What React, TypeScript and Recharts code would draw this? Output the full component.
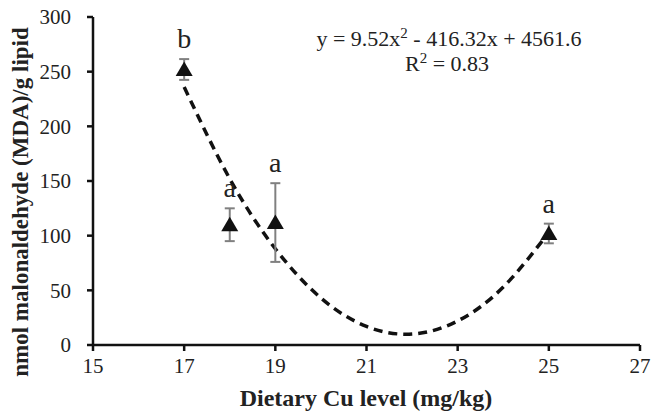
import { ComposedChart, Line, Scatter, XAxis, YAxis, ErrorBar } from 'recharts'

const cuLevels = [17, 18, 19, 25]
const mdaValues = [252, 110, 112, 102]
const mdaErrors = [9.5, 15, 36, 9]
const letters = ['b', 'a', 'a', 'a']

// trend curve at each level
const trendX = [17, 18, 19, 20, 21, 22, 23, 24, 25]
const trendY = [236, 152, 88, 43, 17, 10, 22, 53, 103]

const xTicks = [15, 17, 19, 21, 23, 25, 27]
const yTicks = [0, 50, 100, 150, 200, 250, 300]

const points = cuLevels.map((x, i) => ({ x, y: mdaValues[i], err: mdaErrors[i] }))
const letterPoints = cuLevels.map((x, i) => ({ x, y: mdaValues[i] + mdaErrors[i], letter: letters[i] }))
const trend = trendX.map((x, i) => ({ x, y: trendY[i] }))

const FONT = '"Liberation Serif", "Times New Roman", serif'

function Triangle(props: any) {
  const { cx, cy } = props
  if (cx == null || cy == null) return null
  return <path d={`M${cx},${cy - 8} L${cx + 8.5},${cy + 6.5} L${cx - 8.5},${cy + 6.5} Z`} fill="#111" />
}

function Letter(props: any) {
  const { cx, cy, payload } = props
  if (cx == null || cy == null) return null
  return (
    <text x={cx} y={cy - 11} textAnchor="middle" fontFamily={FONT} fontSize={28} fill="#222">
      {payload.letter}
    </text>
  )
}

export default function App() {
  return (
    <div style={{ position: 'absolute', left: 0, top: 0, background: '#fff' }}>
      <ComposedChart width={651} height={416} margin={{ top: 17, right: 11, bottom: 41, left: 33 }}>
        <XAxis
          type="number"
          dataKey="x"
          domain={[15, 27]}
          ticks={xTicks}
          tickSize={6}
          tickMargin={7}
          stroke="#111"
          strokeWidth={2.5}
          tick={{ fill: '#222', fontSize: 21, fontFamily: FONT }}
          height={30}
          allowDuplicatedCategory={false}
        />
        <YAxis
          type="number"
          domain={[0, 300]}
          ticks={yTicks}
          tickSize={6}
          tickMargin={16}
          stroke="#111"
          strokeWidth={2.5}
          tick={{ fill: '#222', fontSize: 21, fontFamily: FONT }}
          width={60}
        />
        <Line
          data={trend}
          dataKey="y"
          type="natural"
          stroke="#111"
          strokeWidth={3.5}
          strokeDasharray="9 6"
          dot={false}
          activeDot={false}
          isAnimationActive={false}
        />
        <Scatter data={points} dataKey="y" shape={<Triangle />} isAnimationActive={false}>
          <ErrorBar dataKey="err" direction="y" width={5} stroke="#808080" strokeWidth={2} />
        </Scatter>
        <Scatter data={letterPoints} dataKey="y" shape={<Letter />} isAnimationActive={false} />
        <text x={449} y={46} textAnchor="middle" fontFamily={FONT} fontSize={22} fill="#222">
          y = 9.52x<tspan dy={-8} fontSize={15}>2</tspan><tspan dy={8}> - 416.32x + 4561.6</tspan>
        </text>
        <text x={447} y={71} textAnchor="middle" fontFamily={FONT} fontSize={22} fill="#222">
          R<tspan dy={-8} fontSize={15}>2</tspan><tspan dy={8}> = 0.83</tspan>
        </text>
        <text x={366} y={406} textAnchor="middle" fontFamily={FONT} fontSize={24} fontWeight="bold" fill="#222">
          Dietary Cu level (mg/kg)
        </text>
        <text
          x={28}
          y={202}
          textAnchor="middle"
          transform="rotate(-90 28 202)"
          fontFamily={FONT}
          fontSize={23}
          fontWeight="bold"
          fill="#222"
        >
          nmol malonaldehyde (MDA)/g lipid
        </text>
      </ComposedChart>
    </div>
  )
}
